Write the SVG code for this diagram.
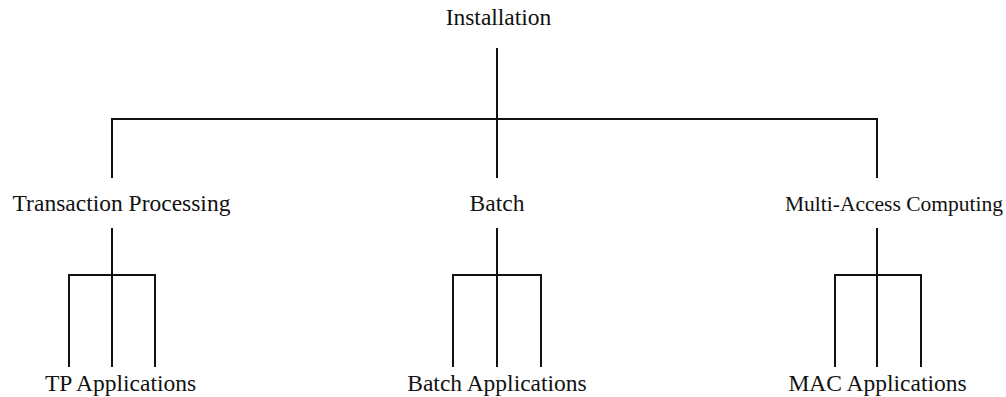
<svg xmlns="http://www.w3.org/2000/svg" width="1006" height="397" viewBox="0 0 1006 397">
<style>
text{font-family:"Liberation Serif","Times New Roman",serif;font-size:23.5px;fill:#111;text-anchor:middle}
.c line{stroke:#111;stroke-width:2;stroke-linecap:butt}
</style>
<rect width="1006" height="397" fill="#fff"/>
<g class="c" id="connectors">
<line x1="497" y1="48" x2="497" y2="178"/>
<line x1="111" y1="119" x2="878" y2="119"/>
<line x1="112" y1="119" x2="112" y2="178"/>
<line x1="877" y1="119" x2="877" y2="178"/>
<line x1="112" y1="228" x2="112" y2="367"/>
<line x1="68" y1="275" x2="156" y2="275"/>
<line x1="69" y1="275" x2="69" y2="367"/>
<line x1="155" y1="275" x2="155" y2="367"/>
<line x1="497" y1="228" x2="497" y2="367"/>
<line x1="452" y1="275" x2="542" y2="275"/>
<line x1="453" y1="275" x2="453" y2="367"/>
<line x1="541" y1="275" x2="541" y2="367"/>
<line x1="877" y1="228" x2="877" y2="367"/>
<line x1="834" y1="275" x2="922" y2="275"/>
<line x1="835" y1="275" x2="835" y2="367"/>
<line x1="921" y1="275" x2="921" y2="367"/>
</g>
<g id="installation"><text x="498.5" y="25">Installation</text></g>
<g id="tp"><text x="121.5" y="211">Transaction Processing</text></g>
<g id="batch"><text x="497" y="211">Batch</text></g>
<g id="mac"><text x="894" y="211" style="font-size:21.5px">Multi-Access Computing</text></g>
<g id="tp-apps"><text x="120.5" y="391">TP Applications</text></g>
<g id="batch-apps"><text x="497" y="391">Batch Applications</text></g>
<g id="mac-apps"><text x="877.5" y="391">MAC Applications</text></g>
</svg>
